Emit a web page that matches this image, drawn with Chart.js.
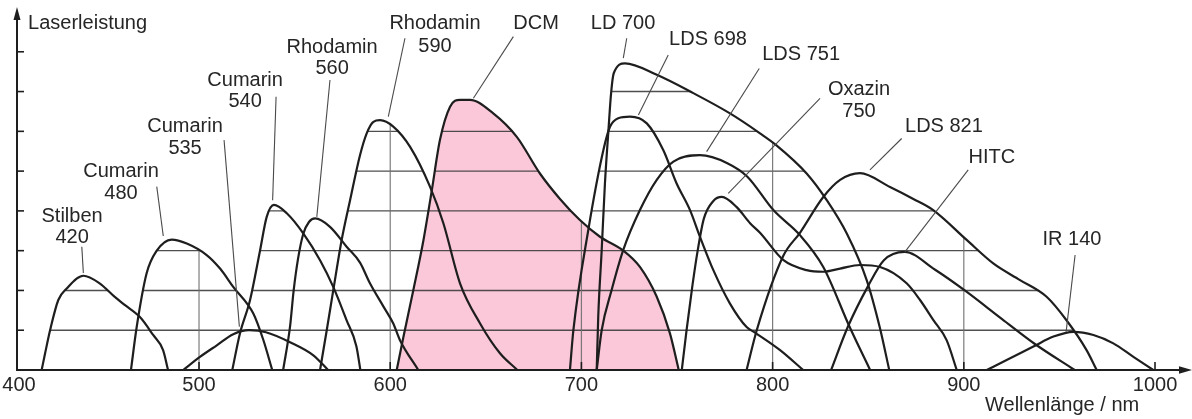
<!DOCTYPE html>
<html lang="de">
<head>
<meta charset="utf-8">
<title>Abstimmbereiche von Farbstofflasern</title>
<script src="https://cdn.jsdelivr.net/npm/chart.js@4.4.1/dist/chart.umd.min.js"></script>
<style>
  html, body { margin: 0; padding: 0; background: #fff; }
  #wrap { position: relative; width: 1192px; height: 419px; }
</style>
</head>
<body>
<div id="wrap"><canvas id="c"></canvas></div>
<script>
// Tuning curves: [wavelength in nm, relative laser power in grid units]
const stilben420 = [[417.7,0],[419.5,0.42],[422.1,1.0],[426.4,1.76],[430.8,2.05],[439.5,2.37],[448,2.18],[456.1,1.83],[461.3,1.63],[469.1,1.33],[476,0.88],[481.2,0.5],[483.8,0]];
const cumarin480 = [[464.4,0],[467.4,1.08],[472.6,2.43],[477.9,3.0],[485.7,3.28],[493.6,3.18],[504,2.89],[511,2.55],[517.9,2.09],[528.4,1.42],[533.6,0.76],[538.3,0]];
const cumarin535 = [[491.7,0],[500.5,0.33],[509.3,0.62],[517.9,0.9],[526.2,1.0],[535,0.95],[547.6,0.7],[559.8,0.37],[567.5,0]];
const cumarin540 = [[517.4,0],[521.4,0.92],[526.7,1.76],[531.9,3.0],[535.4,3.85],[539.2,4.15],[545.9,3.94],[554.6,3.43],[563.3,2.76],[570.2,2.09],[577.2,1.25],[582.3,0.6],[584.4,0]];
const rhodamin560 = [[544,0],[547.6,1.09],[549.5,2.0],[551.8,2.8],[554.5,3.42],[557.5,3.72],[560.7,3.81],[568.5,3.6],[577.2,3.1],[584.2,2.7],[589.4,2.18],[596.4,1.6],[601.6,1.17],[605.1,0.75],[614.7,0]];
const rhodamin590 = [[563.3,0],[566.8,1.0],[570.2,2.0],[574.6,3.27],[579,4.27],[584.2,5.4],[587.7,5.95],[591.2,6.24],[594.7,6.28],[601.6,6.12],[610.4,5.61],[620.8,4.61],[627.8,3.69],[636.5,2.18],[647,1.17],[657.4,0.42],[666.5,0]];
const dcm = [[603.4,0],[606.9,0.83],[612.1,2.01],[617.4,3.27],[621.7,4.5],[626,5.78],[631.3,6.62],[636.5,6.79],[641.7,6.79],[653.9,6.45],[666.2,5.86],[678.3,4.94],[688.8,4.3],[699.2,3.77],[709.7,3.35],[721.9,3.0],[730.6,2.59],[739.4,1.84],[746.3,0.92],[750.9,0]];
const ld700 = [[708,0],[708.8,1.34],[710.6,3.01],[712.3,4.69],[714.1,6.0],[715.5,6.95],[716.9,7.46],[722.8,7.71],[739.4,7.42],[758.5,6.96],[777.7,6.45],[793.4,5.95],[801.7,5.66],[817.8,4.94],[828.3,4.27],[838.8,3.43],[849.2,2.26],[856,1.08],[861,0]];
const lds698 = [[694,0],[695.8,1.0],[703.6,3.52],[711.5,5.53],[715,6.12],[719.3,6.33],[725.4,6.37],[734.2,6.2],[742.8,5.53],[749.8,4.69],[756.8,4.02],[762,3.35],[769,2.51],[777.7,1.67],[786.4,1.08],[790.8,0.94],[803.9,0.5],[816,0]];
const lds751 = [[708,0],[710.6,1.0],[715.8,2.01],[721.9,3.02],[730.6,4.02],[739.4,4.78],[748.1,5.24],[762,5.4],[776.3,5.2],[786.8,4.86],[800.4,4.02],[814.3,3.39],[826.5,2.59],[840.3,1.08],[851,0]];
const oxazin750 = [[752.5,0],[755,1.0],[758,2.1],[760.8,3.0],[764,3.8],[769,4.25],[773.4,4.35],[781.1,4.1],[788.2,3.69],[793.4,3.45],[805.7,2.76],[817.8,2.51],[826.5,2.47],[835.3,2.55],[845.7,2.64],[856.2,2.59],[870.1,2.18],[877.1,1.76],[884,1.26],[891,0.75],[896.3,0]];
const lds821 = [[786.4,0],[791.7,1.0],[805.6,2.87],[814.3,3.45],[826.5,4.35],[835.3,4.78],[845.7,4.95],[861.4,4.6],[873.6,4.3],[884,4.02],[901.5,3.27],[915.4,2.68],[929.4,2.26],[943.3,1.84],[953.7,1.25],[964.2,0.5],[969.5,0]];
const hitc = [[830.6,0],[839.3,1.08],[849.7,2.09],[858.2,2.76],[869,2.97],[885,2.52],[900.5,2.0],[920,1.28],[937,0.66],[958,0]];
const ir140 = [[912,0],[922.4,0.25],[936.4,0.59],[946.9,0.84],[957.3,0.96],[967.8,0.88],[978.2,0.67],[988.7,0.33],[999.1,0]];

const dyeCurves = [stilben420, cumarin480, cumarin535, cumarin540, rhodamin560, rhodamin590, dcm, ld700, lds698, lds751, oxazin750, lds821, hitc, ir140];
const dyeLabels = [['Stilben','420'],['Cumarin','480'],['Cumarin','535'],['Cumarin','540'],['Rhodamin','560'],['Rhodamin','590'],['DCM'],['LD 700'],['LDS 698'],['LDS 751'],['Oxazin','750'],['LDS 821'],['HITC'],['IR 140']];
const highlightedDye = 'DCM';

// Axis ticks
const xTickValues = [500, 600, 700, 800, 900, 1000];
const xOriginLabel = '400';
const yGridLevels = [1, 2, 3, 4, 5, 6, 7, 8];
const yAxisTitle = 'Laserleistung';
const xAxisTitle = 'Wellenlänge / nm';

// Where each name sits (axis units): x centre, y per text line, and the leader line to its curve
const labelLayout = [
  { x: 433.6, lines: [3.85, 3.32], leader: [[438.7, 3.10], [439.5, 2.44]] },
  { x: 459.2, lines: [5.00, 4.45], leader: [[477.9, 4.61], [481.3, 3.37]] },
  { x: 492.7, lines: [6.13, 5.58], leader: [[513.1, 5.78], [521.1, 1.09]] },
  { x: 524.1, lines: [7.29, 6.74], leader: [[540.3, 6.87], [538.5, 4.27]] },
  { x: 569.6, lines: [8.12, 7.57], leader: [[568.5, 7.29], [561.6, 3.85]] },
  { x: 623.4, lines: [8.70, 8.14], leader: [[607.7, 8.34], [599.0, 6.37]] },
  { x: 676.3, lines: [8.70],       leader: [[664.4, 8.38], [643.5, 6.83]] },
  { x: 721.8, lines: [8.70],       leader: [[723.7, 8.34], [721.9, 7.84]] },
  { x: 766.2, lines: [8.30],       leader: [[745.4, 7.92], [729.8, 6.41]] },
  { x: 814.9, lines: [7.92],       leader: [[793.0, 7.58], [765.5, 5.49]] },
  { x: 845.2, lines: [7.06, 6.51], leader: [[824.8, 6.83], [776.8, 4.44]] },
  { x: 889.6, lines: [6.11],       leader: [[867.5, 5.82], [850.9, 5.03]] },
  { x: 914.7, lines: [5.35],       leader: [[902.3, 5.03], [869.2, 2.97]] },
  { x: 956.6, lines: [3.29],       leader: [[958.2, 2.89], [953.5, 0.96]] }
];
const yAxisTitlePos = [410.6, 8.72];
const xAxisTitlePos = [951.4, -0.88];
const xTickLabelLevel = -0.38;

const FONT = '20px "Liberation Sans", Arial, Helvetica, sans-serif';
const INK = '#1e1e1e';
const PINK = '#fbc8da';

const datasets = dyeCurves.map((curve, i) => {
  const isFilled = dyeLabels[i][0] === highlightedDye;
  return {
    label: dyeLabels[i].join(' '),
    data: curve.map(([x, y]) => ({ x, y })),
    borderColor: INK,
    borderWidth: 2.2,
    borderCapStyle: 'round',
    borderJoinStyle: 'round',
    pointRadius: 0,
    cubicInterpolationMode: 'monotone',
    fill: isFilled ? 'origin' : false,
    backgroundColor: isFilled ? PINK : 'transparent'
  };
});

const dyeDecor = {
  id: 'dyeDecor',
  // grid lines only inside the area covered by the curves
  beforeDatasetsDraw(chart) {
    const { ctx, chartArea, scales: { x, y } } = chart;
    const y0 = y.getPixelForValue(0);
    ctx.save();
    ctx.beginPath();
    chart.getSortedVisibleDatasetMetas().forEach(meta => {
      const line = meta.dataset;
      const pts = line.points;
      if (!pts || !pts.length) return;
      line.updateControlPoints(chartArea, 'x');
      line.path(ctx);
      ctx.lineTo(pts[pts.length - 1].x, y0);
      ctx.lineTo(pts[0].x, y0);
      ctx.closePath();
    });
    ctx.clip();
    ctx.strokeStyle = 'rgba(60,60,60,0.9)';
    ctx.lineWidth = 1.4;
    yGridLevels.forEach(v => {
      const py = y.getPixelForValue(v);
      ctx.beginPath();
      ctx.moveTo(chartArea.left, py);
      ctx.lineTo(chartArea.right, py);
      ctx.stroke();
    });
    ctx.strokeStyle = 'rgba(110,110,110,0.9)';
    ctx.lineWidth = 1.2;
    xTickValues.forEach(v => {
      const px = x.getPixelForValue(v);
      ctx.beginPath();
      ctx.moveTo(px, y0);
      ctx.lineTo(px, chartArea.top);
      ctx.stroke();
    });
    ctx.restore();
  },
  afterDatasetsDraw(chart) {
    const { ctx, chartArea, scales: { x, y } } = chart;
    const x0 = chartArea.left;
    const y0 = y.getPixelForValue(0);
    ctx.save();
    ctx.strokeStyle = INK;
    ctx.fillStyle = INK;
    ctx.lineWidth = 2;
    ctx.lineCap = 'butt';

    // value axis with arrow
    ctx.beginPath();
    ctx.moveTo(x0, y0 + 1);
    ctx.lineTo(x0, chartArea.top + 6);
    ctx.stroke();
    ctx.beginPath();
    ctx.moveTo(x0, chartArea.top - 5);
    ctx.lineTo(x0 - 3.5, chartArea.top + 8);
    ctx.lineTo(x0 + 3.5, chartArea.top + 8);
    ctx.closePath();
    ctx.fill();

    // wavelength axis with arrow
    ctx.beginPath();
    ctx.moveTo(x0 - 1, y0);
    ctx.lineTo(chartArea.right - 8, y0);
    ctx.stroke();
    ctx.beginPath();
    ctx.moveTo(chartArea.right + 2, y0);
    ctx.lineTo(chartArea.right - 11, y0 - 3.8);
    ctx.lineTo(chartArea.right - 11, y0 + 3.8);
    ctx.closePath();
    ctx.fill();

    // tick marks
    ctx.lineWidth = 1.6;
    yGridLevels.forEach(v => {
      const py = y.getPixelForValue(v);
      ctx.beginPath();
      ctx.moveTo(x0, py);
      ctx.lineTo(x0 + 7, py);
      ctx.stroke();
    });
    xTickValues.forEach(v => {
      const px = x.getPixelForValue(v);
      ctx.beginPath();
      ctx.moveTo(px, y0);
      ctx.lineTo(px, y0 - 8);
      ctx.stroke();
    });

    // tick labels and axis titles
    ctx.font = FONT;
    ctx.fillStyle = '#262626';
    ctx.textBaseline = 'middle';
    ctx.textAlign = 'center';
    const tickY = y.getPixelForValue(xTickLabelLevel);
    ctx.fillText(xOriginLabel, x0 + 2, tickY);
    xTickValues.forEach(v => ctx.fillText(String(v), x.getPixelForValue(v), tickY));
    ctx.fillText(xAxisTitle, x.getPixelForValue(xAxisTitlePos[0]), y.getPixelForValue(xAxisTitlePos[1]));
    ctx.textAlign = 'left';
    ctx.fillText(yAxisTitle, x.getPixelForValue(yAxisTitlePos[0]), y.getPixelForValue(yAxisTitlePos[1]));

    // dye names with leader lines
    ctx.strokeStyle = '#4a4a4a';
    ctx.lineWidth = 1.1;
    ctx.textAlign = 'center';
    labelLayout.forEach((lay, i) => {
      const [a, b] = lay.leader;
      ctx.beginPath();
      ctx.moveTo(x.getPixelForValue(a[0]), y.getPixelForValue(a[1]));
      ctx.lineTo(x.getPixelForValue(b[0]), y.getPixelForValue(b[1]));
      ctx.stroke();
      dyeLabels[i].forEach((txt, k) => {
        ctx.fillText(txt, x.getPixelForValue(lay.x), y.getPixelForValue(lay.lines[k]));
      });
    });
    ctx.restore();
  }
};

new Chart(document.getElementById('c'), {
  type: 'line',
  data: { datasets },
  options: {
    responsive: true,
    maintainAspectRatio: false,
    animation: false,
    devicePixelRatio: 1,
    layout: { padding: { left: 17, right: 2, top: 12, bottom: 49 } },
    scales: {
      x: { type: 'linear', min: 404.8, max: 1018.3, display: false },
      y: { type: 'linear', min: 0, max: 9, display: false }
    },
    plugins: {
      legend: { display: false },
      tooltip: { enabled: false },
      filler: { drawTime: 'beforeDatasetsDraw' }
    },
    events: []
  },
  plugins: [dyeDecor]
});
</script>
</body>
</html>
